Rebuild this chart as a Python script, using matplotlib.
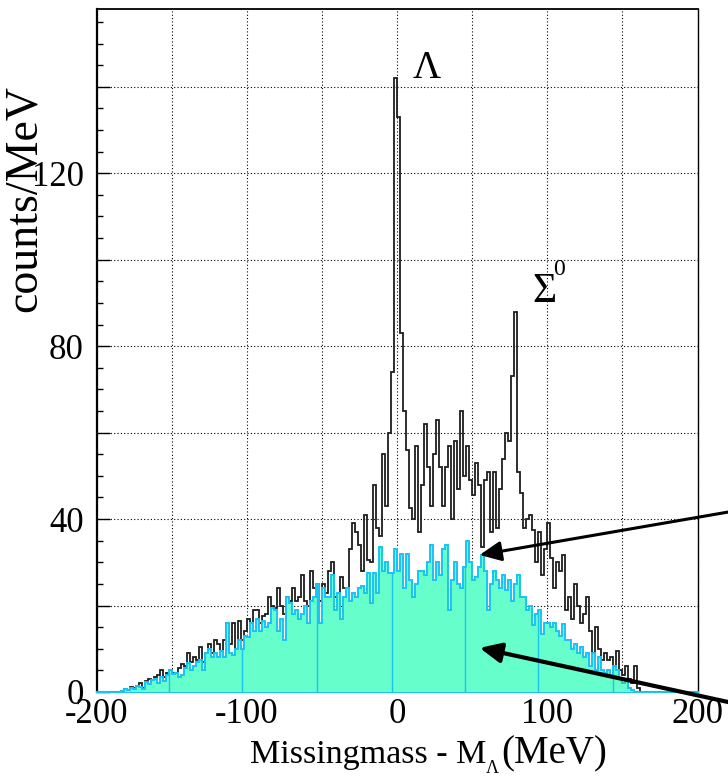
import matplotlib
matplotlib.use('Agg')
import matplotlib.pyplot as plt
import numpy as np
from matplotlib.ticker import MultipleLocator, FuncFormatter

# ---------------- data ----------------
x_min, x_max, bin_width = -200, 200, 2

# total missing-mass spectrum (black outline), counts/MeV per 2-MeV bin from -200 to 200
black_counts = [
    0, 0, 0, 0, 0, 0, 0, 0, 0.3, 0.8,
    0.5, 1.2, 1.0, 1.5, 2.0, 1.0, 2.5, 3.0, 2.7, 3.5,
    4.0, 5.0, 3.5, 4.5, 5.2, 4.5, 4.5, 5.5, 6.5, 6.0,
    9.0, 7.0, 8.0, 7.5, 10.4, 7.0, 9.0, 11.0, 9.0, 12.0,
    11.0, 9.5, 12.0, 16.0, 11.0, 16.0, 10.0, 16.5, 12.0, 14.0,
    17.0, 16.0, 19.0, 19.0, 16.0, 17.5, 18.0, 22.0, 20.0, 19.5,
    24.0, 20.0, 18.0, 22.0, 21.0, 24.0, 21.0, 22.0, 27.0, 21.0,
    20.0, 28.0, 24.0, 25.0, 21.0, 25.0, 23.0, 28.0, 30.0, 22.0,
    21.0, 26.6, 24.0, 24.0, 33.0, 39.0, 37.0, 34.0, 28.0, 41.0,
    30.5, 30.0, 48.0, 38.0, 36.0, 55.0, 43.0, 60.0, 74.0, 142.0,
    133.0, 83.0, 65.0, 56.0, 42.5, 40.0, 57.0, 37.0, 48.0, 62.0,
    52.0, 43.0, 55.0, 63.0, 52.0, 43.0, 52.0, 57.0, 40.0, 58.0,
    47.0, 65.0, 50.0, 57.0, 49.0, 45.5, 53.0, 48.0, 33.5, 49.0,
    51.0, 37.0, 51.0, 38.0, 47.0, 54.0, 60.0, 58.0, 73.0, 88.0,
    51.0, 46.0, 38.0, 40.0, 41.0, 37.5, 30.0, 37.0, 27.0, 33.0,
    39.0, 31.0, 24.0, 30.0, 28.0, 31.7, 19.0, 22.0, 17.0, 25.0,
    20.0, 16.0, 18.0, 22.0, 14.0, 9.0, 15.0, 10.0, 7.4, 9.0,
    7.4, 8.0, 6.0, 9.4, 5.0, 4.0, 6.0, 3.0, 2.0, 6.0,
    1.0, 0, 0, 0, 0, 0, 0, 0, 0, 0,
    0, 0, 0, 0, 0, 0, 0, 0, 0, 0,
]

# background / simulated contribution (cyan filled)
cyan_counts = [
    0, 0, 0, 0, 0, 0, 0, 0, 0.3, 0.8,
    0.5, 1.0, 0.8, 1.5, 1.2, 0.6, 2.3, 1.8, 2.7, 3.0,
    2.0, 3.5, 2.5, 4.0, 5.0, 4.2, 4.5, 3.5, 4.0, 5.5,
    6.7, 5.0, 6.0, 7.0, 7.5, 5.0, 9.0, 10.0, 8.0, 9.0,
    8.0, 9.5, 8.0, 16.0, 9.0, 8.5, 10.0, 12.0, 10.0, 13.0,
    12.7, 16.0, 14.0, 17.0, 14.0, 16.5, 15.0, 16.0, 19.4, 19.0,
    14.0, 17.0, 12.0, 22.0, 20.5, 18.0, 19.0, 17.0, 18.0, 20.0,
    16.0, 21.0, 22.0, 25.0, 16.0, 24.0, 22.0, 22.0, 27.0, 19.0,
    23.0, 17.0, 22.0, 24.0, 21.0, 23.0, 22.0, 24.0, 24.5, 23.0,
    27.5, 20.5, 27.5, 23.0, 33.5, 28.0, 30.0, 27.5, 27.5, 33.0,
    28.0, 32.0, 24.0, 32.0, 26.0, 22.0, 25.0, 28.0, 28.0, 27.0,
    30.0, 34.0, 26.0, 30.0, 27.0, 33.0, 34.0, 19.0, 26.0, 30.0,
    25.0, 24.0, 29.0, 35.0, 30.0, 26.0, 26.5, 29.0, 31.7, 28.0,
    19.0, 25.0, 28.0, 26.0, 24.0, 27.0, 23.5, 26.0, 21.0, 25.0,
    27.0, 22.0, 22.0, 19.0, 20.0, 15.5, 18.0, 19.0, 13.5, 16.0,
    16.0, 15.0, 16.0, 14.0, 13.0, 15.7, 12.0, 12.0, 10.0, 11.0,
    9.0, 10.4, 8.0, 9.0, 6.0, 9.0, 5.0, 8.0, 5.0, 4.5,
    5.0, 4.0, 6.0, 5.0, 3.0, 2.0, 2.5, 1.0, 0.5, 0,
    0, 0, 0, 0, 0, 0, 0, 0, 0, 0,
    0, 0, 0, 0, 0, 0, 0, 0, 0, 0,
]

x_tick_values = [-200, -100, 0, 100, 200]
y_tick_values = [0, 40, 80, 120]
fill_seams = [-152, -103, -53, -3, 45, 94, 144]

# ---------------- style ----------------
plt.rcParams['font.family'] = ['Liberation Serif', 'DejaVu Serif']
plt.rcParams['mathtext.fontset'] = 'stix'

FILL = '#66ffcc'
LINE_C = '#19c3f3'

fig = plt.figure(figsize=(7.28, 7.76), dpi=100)
W, H = 728.0, 776.0
ax = fig.add_axes([96.5 / W, 1 - 692 / H, (697.5 - 96.5) / W, (692 - 9) / H])

edges = np.arange(x_min, x_max + bin_width, bin_width)
ax.stairs(black_counts, edges, color='#1e1e1e', lw=1.3, zorder=3)
ax.stairs(cyan_counts, edges, fill=True, color=FILL, lw=0, zorder=4)
seam_h = [cyan_counts[int((p - x_min) // bin_width)] for p in fill_seams]
ax.vlines(fill_seams, 0, seam_h, color=LINE_C, lw=1.0, zorder=4.5)
ax.stairs(cyan_counts, edges, color=LINE_C, lw=1.4, zorder=5)

ax.set_xlim(x_min, x_max)
ax.set_ylim(0, 158)

ax.xaxis.set_major_locator(MultipleLocator(50))
ax.xaxis.set_major_formatter(FuncFormatter(
    lambda v, p: '%d' % v if int(round(v)) in x_tick_values else ''))
ax.yaxis.set_major_locator(MultipleLocator(20))
ax.yaxis.set_minor_locator(MultipleLocator(5))
ax.yaxis.set_major_formatter(FuncFormatter(
    lambda v, p: '%d' % v if int(round(v)) in y_tick_values else ''))

ax.grid(True, which='major', color='black', linestyle=(0, (1, 2)), lw=0.8)
ax.set_axisbelow(True)

ax.tick_params(axis='x', length=0, pad=4, labelsize=25)
ax.tick_params(axis='y', which='major', direction='in', length=9, width=1,
               pad=9, labelsize=25)
ax.tick_params(axis='y', which='minor', direction='in', length=4.5, width=1)

ax.spines['left'].set_linewidth(1.6)
ax.spines['top'].set_linewidth(1.3)
ax.spines['right'].set_linewidth(1.0)
ax.spines['bottom'].set_color(LINE_C)
ax.spines['bottom'].set_linewidth(1.5)

# peak labels
ax.text(10.6, 142, 'Λ', fontsize=28, ha='left', va='baseline', zorder=6)
ax.text(90, 90.2, 'Σ', fontsize=30, ha='left', va='baseline', zorder=6)
ax.text(104, 96.5, '0', fontsize=17, ha='left', va='baseline', zorder=6)

# axis titles
fig.text(250 / W, 1 - 763 / H, 'Missingmass - M', fontsize=24.5,
         ha='left', va='baseline')
fig.text(486 / W, 1 - 773 / H, 'Λ', fontsize=13, ha='left', va='baseline')
fig.text(501 / W, 1 - 763 / H, '(MeV)', fontsize=28, ha='left', va='baseline')
fig.text(25 / W, 1 - 199 / H, 'counts/MeV', fontsize=33, rotation=90,
         ha='center', va='center')

# arrows coming in from the right
ax.annotate('', xy=(55, 31.7), xycoords='data', xytext=(740, 266),
            textcoords='figure pixels', annotation_clip=False, zorder=10,
            arrowprops=dict(arrowstyle='-|>,head_length=0.65,head_width=0.3',
                            mutation_scale=20, color='black', lw=2.2,
                            shrinkA=0, shrinkB=0))
ax.annotate('', xy=(55, 10.2), xycoords='data', xytext=(740, 71.4),
            textcoords='figure pixels', annotation_clip=False, zorder=10,
            arrowprops=dict(arrowstyle='-|>,head_length=0.65,head_width=0.3',
                            mutation_scale=20, color='black', lw=3.0,
                            shrinkA=0, shrinkB=0))

fig.savefig('out.png', dpi=100)
